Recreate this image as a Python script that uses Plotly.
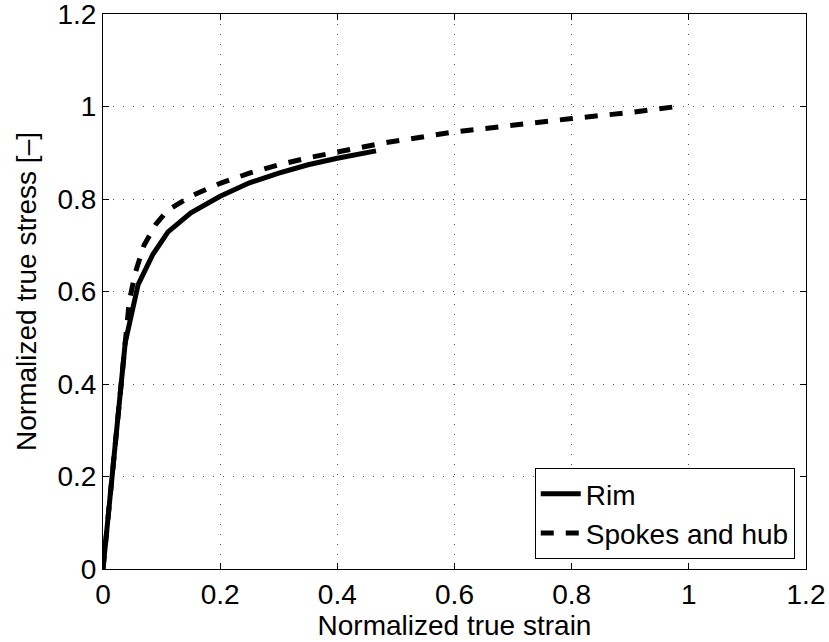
import plotly.graph_objects as go

# Rim curve
rim_strain = [0.0, 0.038, 0.060, 0.085, 0.111, 0.150, 0.200, 0.250, 0.300, 0.350, 0.400, 0.466]
rim_stress = [0.0, 0.490, 0.615, 0.680, 0.729, 0.770, 0.806, 0.835, 0.856, 0.874, 0.888, 0.904]

# Spokes and hub curve
hub_strain = [0.0, 0.037, 0.045, 0.055, 0.070, 0.090, 0.110, 0.150, 0.200, 0.250, 0.300,
              0.350, 0.400, 0.478, 0.600, 0.700, 0.800, 0.900, 0.980]
hub_stress = [0.0, 0.500, 0.580, 0.640, 0.700, 0.745, 0.775, 0.806, 0.834, 0.856, 0.874,
              0.889, 0.902, 0.921, 0.945, 0.960, 0.974, 0.987, 1.000]

x_title = "Normalized true strain"
y_title = "Normalized true stress [–]"

font_family = "Liberation Sans, Arial, Helvetica, sans-serif"
fs = 28

fig = go.Figure()
fig.add_trace(go.Scatter(x=rim_strain, y=rim_stress, mode="lines", name="Rim",
                         line=dict(color="black", width=5)))
fig.add_trace(go.Scatter(x=hub_strain, y=hub_stress, mode="lines", name="Spokes and hub",
                         line=dict(color="black", width=5, dash="13px,12px")))

axis_common = dict(
    range=[0, 1.2], dtick=0.2, tick0=0,
    showline=True, linecolor="black", linewidth=1, mirror="ticks",
    ticks="inside", ticklen=6, tickcolor="black", tickwidth=1,
    showgrid=True, gridcolor="#555555", gridwidth=1, griddash="1px,9px",
    zeroline=False, automargin=False, ticklabeloverflow="allow",
    tickfont=dict(family=font_family, size=fs, color="black"),
    title_font=dict(family=font_family, size=fs, color="black"),
)

fig.update_xaxes(**axis_common, title_text=x_title, title_standoff=2)
fig.update_yaxes(**axis_common, title_text=y_title, title_standoff=12)

fig.update_layout(
    width=829, height=642,
    margin=dict(l=103, r=23, t=14, b=73),
    plot_bgcolor="white", paper_bgcolor="white",
    font=dict(family=font_family, size=fs, color="black"),
    showlegend=True,
    legend=dict(x=0.984, y=0.018, xanchor="right", yanchor="bottom",
                bgcolor="white", bordercolor="black", borderwidth=1,
                font=dict(family=font_family, size=fs, color="black"),
                tracegroupgap=0, itemwidth=40),
)

fig.write_html("out.html")
